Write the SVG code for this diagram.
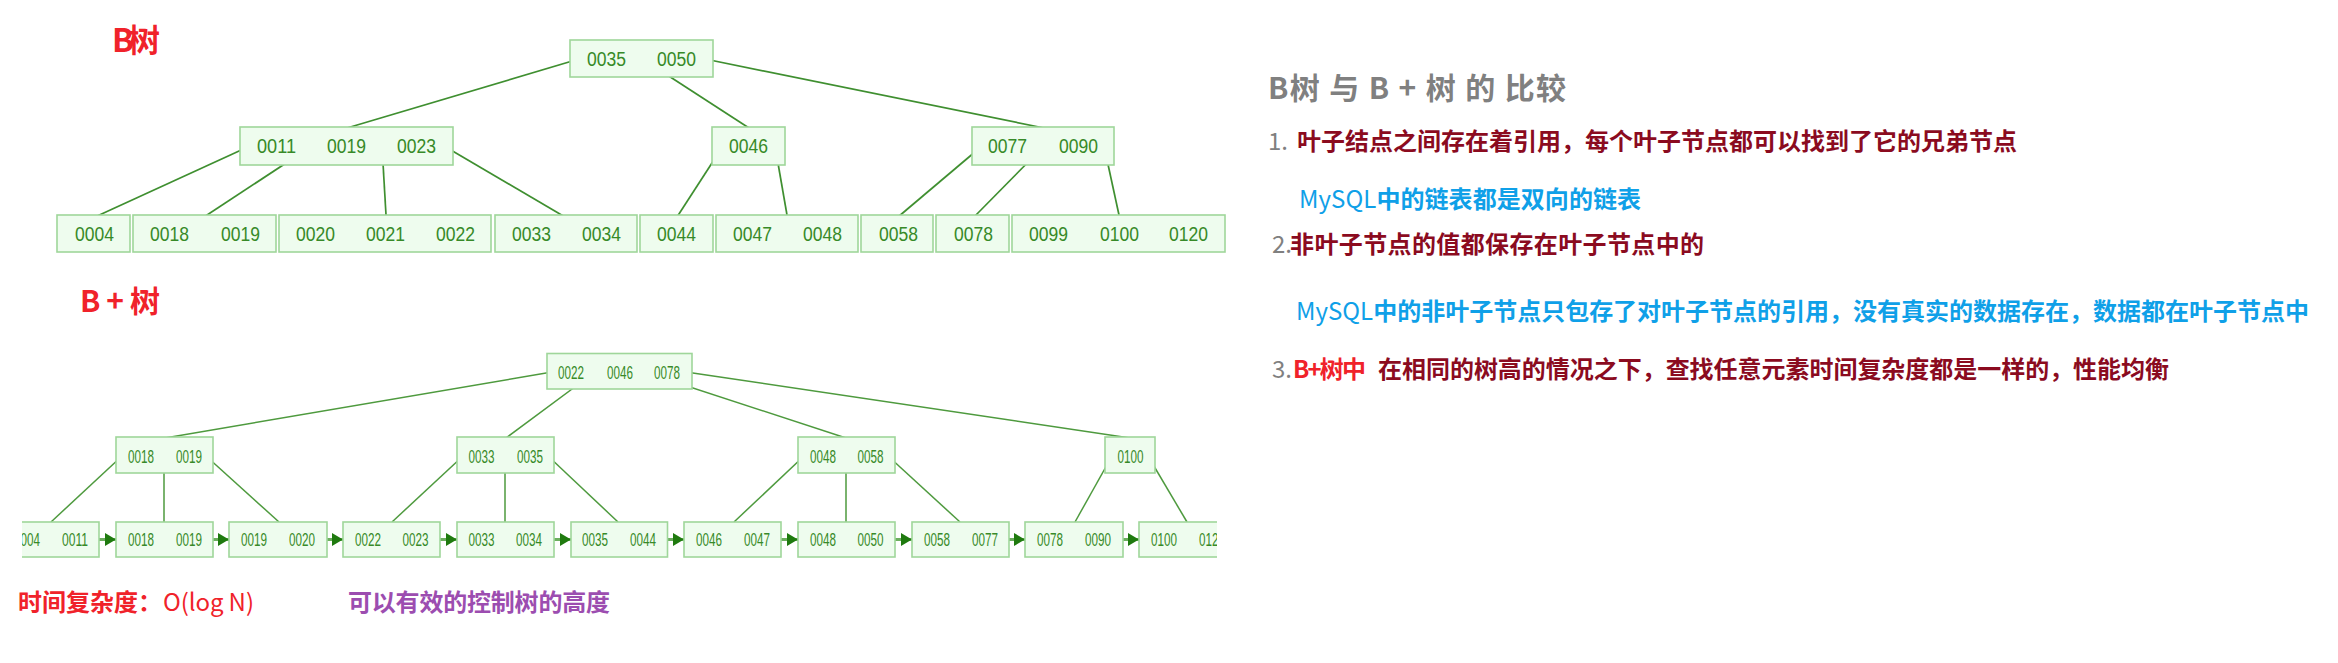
<svg xmlns="http://www.w3.org/2000/svg" width="2338" height="663" viewBox="0 0 2338 663">
<style>
.box{fill:#eefcee;stroke:#9fd69a;stroke-width:1.6}
.k1{font-family:"Liberation Sans",Arial,sans-serif;font-size:20px;fill:#378a28}
.k2{font-family:"Liberation Sans",Arial,sans-serif;font-size:18.5px;fill:#378a28}
.ln{stroke:#3f8f30;stroke-width:1.7;fill:none}
.ln2{stroke:#4e9a3e;stroke-width:1.5;fill:none}
.ar{stroke:#6cae5e;stroke-width:3;fill:none;marker-end:url(#ah)}
.cjk{font-family:"Noto Sans CJK SC","Noto Sans",sans-serif}
.b{font-weight:bold}
.gray{fill:#808080}
.dred{fill:#8b0b1f}
.blue{fill:#0fa0e8}
.red{fill:#f0222a}
.purple{fill:#9c4db0}
</style>
<defs>
<marker id="ah" markerUnits="userSpaceOnUse" markerWidth="12" markerHeight="14" refX="11" refY="6.5" orient="auto">
<path d="M0,0 L11,6.5 L0,13 Z" fill="#1f7a0f"/>
</marker>
<clipPath id="bpclip"><rect x="22" y="340" width="1195" height="230"/></clipPath>
</defs>
<rect width="2338" height="663" fill="#ffffff"/>

<!-- B-tree labels -->
<text class="cjk b red" x="112" y="52" font-size="32" textLength="48" lengthAdjust="spacing">B树</text>

<!-- B-tree connectors -->
<g id="btree-connectors">
<line class="ln" x1="579" y1="59" x2="347" y2="128"/>
<line class="ln" x1="641" y1="58" x2="749" y2="128"/>
<line class="ln" x1="705" y1="59" x2="1044" y2="128"/>
<line class="ln" x1="250" y1="146" x2="95" y2="217"/>
<line class="ln" x1="312" y1="146" x2="204" y2="217"/>
<line class="ln" x1="382" y1="146" x2="386" y2="215"/>
<line class="ln" x1="444" y1="146" x2="565" y2="217"/>
<line class="ln" x1="723" y1="146" x2="677" y2="217"/>
<line class="ln" x1="775" y1="146" x2="787" y2="215"/>
<line class="ln" x1="982" y1="146" x2="898" y2="217"/>
<line class="ln" x1="1044" y1="146" x2="974" y2="217"/>
<line class="ln" x1="1104" y1="146" x2="1119" y2="215"/>
</g>

<!-- B-tree nodes -->
<g id="b-root"><rect class="box" x="570" y="40" width="143" height="37"/>
<text class="k1" x="587" y="66" textLength="39" lengthAdjust="spacingAndGlyphs">0035</text>
<text class="k1" x="657" y="66" textLength="39" lengthAdjust="spacingAndGlyphs">0050</text></g>

<g id="b-n1"><rect class="box" x="240" y="127" width="213" height="38"/>
<text class="k1" x="257" y="153" textLength="39" lengthAdjust="spacingAndGlyphs">0011</text>
<text class="k1" x="327" y="153" textLength="39" lengthAdjust="spacingAndGlyphs">0019</text>
<text class="k1" x="397" y="153" textLength="39" lengthAdjust="spacingAndGlyphs">0023</text></g>
<g id="b-n2"><rect class="box" x="712" y="127" width="73" height="38"/>
<text class="k1" x="729" y="153" textLength="39" lengthAdjust="spacingAndGlyphs">0046</text></g>
<g id="b-n3"><rect class="box" x="972" y="127" width="142" height="38"/>
<text class="k1" x="988" y="153" textLength="39" lengthAdjust="spacingAndGlyphs">0077</text>
<text class="k1" x="1059" y="153" textLength="39" lengthAdjust="spacingAndGlyphs">0090</text></g>

<g id="b-l1"><rect class="box" x="57" y="215" width="73" height="37"/>
<text class="k1" x="75" y="241" textLength="39" lengthAdjust="spacingAndGlyphs">0004</text></g>
<g id="b-l2"><rect class="box" x="133" y="215" width="143" height="37"/>
<text class="k1" x="150" y="241" textLength="39" lengthAdjust="spacingAndGlyphs">0018</text>
<text class="k1" x="221" y="241" textLength="39" lengthAdjust="spacingAndGlyphs">0019</text></g>
<g id="b-l3"><rect class="box" x="279" y="215" width="212" height="37"/>
<text class="k1" x="296" y="241" textLength="39" lengthAdjust="spacingAndGlyphs">0020</text>
<text class="k1" x="366" y="241" textLength="39" lengthAdjust="spacingAndGlyphs">0021</text>
<text class="k1" x="436" y="241" textLength="39" lengthAdjust="spacingAndGlyphs">0022</text></g>
<g id="b-l4"><rect class="box" x="495" y="215" width="142" height="37"/>
<text class="k1" x="512" y="241" textLength="39" lengthAdjust="spacingAndGlyphs">0033</text>
<text class="k1" x="582" y="241" textLength="39" lengthAdjust="spacingAndGlyphs">0034</text></g>
<g id="b-l5"><rect class="box" x="640" y="215" width="73" height="37"/>
<text class="k1" x="657" y="241" textLength="39" lengthAdjust="spacingAndGlyphs">0044</text></g>
<g id="b-l6"><rect class="box" x="716" y="215" width="142" height="37"/>
<text class="k1" x="733" y="241" textLength="39" lengthAdjust="spacingAndGlyphs">0047</text>
<text class="k1" x="803" y="241" textLength="39" lengthAdjust="spacingAndGlyphs">0048</text></g>
<g id="b-l7"><rect class="box" x="861" y="215" width="72" height="37"/>
<text class="k1" x="879" y="241" textLength="39" lengthAdjust="spacingAndGlyphs">0058</text></g>
<g id="b-l8"><rect class="box" x="936" y="215" width="73" height="37"/>
<text class="k1" x="954" y="241" textLength="39" lengthAdjust="spacingAndGlyphs">0078</text></g>
<g id="b-l9"><rect class="box" x="1012" y="215" width="213" height="37"/>
<text class="k1" x="1029" y="241" textLength="39" lengthAdjust="spacingAndGlyphs">0099</text>
<text class="k1" x="1100" y="241" textLength="39" lengthAdjust="spacingAndGlyphs">0100</text>
<text class="k1" x="1169" y="241" textLength="39" lengthAdjust="spacingAndGlyphs">0120</text></g>

<!-- B+ tree label -->
<text class="cjk b red" x="80" y="312" font-size="30" textLength="80" lengthAdjust="spacing">B + 树</text>

<g clip-path="url(#bpclip)">
<!-- B+ tree connectors -->
<g id="bplus-connectors">
<line class="ln2" x1="552" y1="372" x2="165" y2="438"/>
<line class="ln2" x1="595" y1="372" x2="506" y2="438"/>
<line class="ln2" x1="644" y1="372" x2="846" y2="438"/>
<line class="ln2" x1="686" y1="372" x2="1130" y2="438"/>
<line class="ln2" x1="122" y1="456" x2="51" y2="522"/>
<line class="ln2" x1="164" y1="456" x2="164" y2="522"/>
<line class="ln2" x1="206" y1="456" x2="279" y2="522"/>
<line class="ln2" x1="463" y1="456" x2="392" y2="522"/>
<line class="ln2" x1="505" y1="456" x2="505" y2="522"/>
<line class="ln2" x1="548" y1="456" x2="618" y2="522"/>
<line class="ln2" x1="804" y1="456" x2="734" y2="522"/>
<line class="ln2" x1="846" y1="456" x2="846" y2="522"/>
<line class="ln2" x1="888" y1="456" x2="960" y2="522"/>
<line class="ln2" x1="1112" y1="456" x2="1075" y2="522"/>
<line class="ln2" x1="1148" y1="456" x2="1187" y2="522"/>
<line class="ar" x1="93" y1="539.5" x2="116" y2="539.5"/>
<line class="ar" x1="207" y1="539.5" x2="229" y2="539.5"/>
<line class="ar" x1="321" y1="539.5" x2="343" y2="539.5"/>
<line class="ar" x1="434" y1="539.5" x2="457" y2="539.5"/>
<line class="ar" x1="548" y1="539.5" x2="571" y2="539.5"/>
<line class="ar" x1="661" y1="539.5" x2="684" y2="539.5"/>
<line class="ar" x1="775" y1="539.5" x2="798" y2="539.5"/>
<line class="ar" x1="889" y1="539.5" x2="912" y2="539.5"/>
<line class="ar" x1="1003" y1="539.5" x2="1025" y2="539.5"/>
<line class="ar" x1="1117" y1="539.5" x2="1139" y2="539.5"/>
</g>

<!-- B+ tree nodes -->
<g id="bp-root"><rect class="box" x="547" y="353.5" width="145" height="35.5"/>
<text class="k2" x="558" y="378.5" textLength="26" lengthAdjust="spacingAndGlyphs">0022</text>
<text class="k2" x="607" y="378.5" textLength="26" lengthAdjust="spacingAndGlyphs">0046</text>
<text class="k2" x="654" y="378.5" textLength="26" lengthAdjust="spacingAndGlyphs">0078</text></g>

<g id="bp-n1"><rect class="box" x="116" y="437" width="97" height="36"/>
<text class="k2" x="128" y="462.5" textLength="26" lengthAdjust="spacingAndGlyphs">0018</text>
<text class="k2" x="176" y="462.5" textLength="26" lengthAdjust="spacingAndGlyphs">0019</text></g>
<g id="bp-n2"><rect class="box" x="457" y="437" width="97" height="36"/>
<text class="k2" x="468.5" y="462.5" textLength="26" lengthAdjust="spacingAndGlyphs">0033</text>
<text class="k2" x="517" y="462.5" textLength="26" lengthAdjust="spacingAndGlyphs">0035</text></g>
<g id="bp-n3"><rect class="box" x="798" y="437" width="97" height="36"/>
<text class="k2" x="810" y="462.5" textLength="26" lengthAdjust="spacingAndGlyphs">0048</text>
<text class="k2" x="857.5" y="462.5" textLength="26" lengthAdjust="spacingAndGlyphs">0058</text></g>
<g id="bp-n4"><rect class="box" x="1105" y="437" width="50" height="36"/>
<text class="k2" x="1117.5" y="462.5" textLength="26" lengthAdjust="spacingAndGlyphs">0100</text></g>

<g id="bp-l1"><rect class="box" x="2" y="522" width="97" height="35"/>
<text class="k2" x="14" y="545.5" textLength="26" lengthAdjust="spacingAndGlyphs">0004</text>
<text class="k2" x="62" y="545.5" textLength="26" lengthAdjust="spacingAndGlyphs">0011</text></g>
<g id="bp-l2"><rect class="box" x="116" y="522" width="97" height="35"/>
<text class="k2" x="128" y="545.5" textLength="26" lengthAdjust="spacingAndGlyphs">0018</text>
<text class="k2" x="176" y="545.5" textLength="26" lengthAdjust="spacingAndGlyphs">0019</text></g>
<g id="bp-l3"><rect class="box" x="229" y="522" width="98" height="35"/>
<text class="k2" x="241" y="545.5" textLength="26" lengthAdjust="spacingAndGlyphs">0019</text>
<text class="k2" x="289" y="545.5" textLength="26" lengthAdjust="spacingAndGlyphs">0020</text></g>
<g id="bp-l4"><rect class="box" x="343" y="522" width="97" height="35"/>
<text class="k2" x="355" y="545.5" textLength="26" lengthAdjust="spacingAndGlyphs">0022</text>
<text class="k2" x="402.5" y="545.5" textLength="26" lengthAdjust="spacingAndGlyphs">0023</text></g>
<g id="bp-l5"><rect class="box" x="457" y="522" width="97" height="35"/>
<text class="k2" x="468.5" y="545.5" textLength="26" lengthAdjust="spacingAndGlyphs">0033</text>
<text class="k2" x="516" y="545.5" textLength="26" lengthAdjust="spacingAndGlyphs">0034</text></g>
<g id="bp-l6"><rect class="box" x="571" y="522" width="96.5" height="35"/>
<text class="k2" x="582" y="545.5" textLength="26" lengthAdjust="spacingAndGlyphs">0035</text>
<text class="k2" x="630" y="545.5" textLength="26" lengthAdjust="spacingAndGlyphs">0044</text></g>
<g id="bp-l7"><rect class="box" x="684" y="522" width="97" height="35"/>
<text class="k2" x="696" y="545.5" textLength="26" lengthAdjust="spacingAndGlyphs">0046</text>
<text class="k2" x="744" y="545.5" textLength="26" lengthAdjust="spacingAndGlyphs">0047</text></g>
<g id="bp-l8"><rect class="box" x="798" y="522" width="97" height="35"/>
<text class="k2" x="810" y="545.5" textLength="26" lengthAdjust="spacingAndGlyphs">0048</text>
<text class="k2" x="857.5" y="545.5" textLength="26" lengthAdjust="spacingAndGlyphs">0050</text></g>
<g id="bp-l9"><rect class="box" x="912" y="522" width="97" height="35"/>
<text class="k2" x="924" y="545.5" textLength="26" lengthAdjust="spacingAndGlyphs">0058</text>
<text class="k2" x="972" y="545.5" textLength="26" lengthAdjust="spacingAndGlyphs">0077</text></g>
<g id="bp-l10"><rect class="box" x="1025" y="522" width="98" height="35"/>
<text class="k2" x="1037" y="545.5" textLength="26" lengthAdjust="spacingAndGlyphs">0078</text>
<text class="k2" x="1085" y="545.5" textLength="26" lengthAdjust="spacingAndGlyphs">0090</text></g>
<g id="bp-l11"><rect class="box" x="1139" y="522" width="97" height="35"/>
<text class="k2" x="1151" y="545.5" textLength="26" lengthAdjust="spacingAndGlyphs">0100</text>
<text class="k2" x="1199" y="545.5" textLength="26" lengthAdjust="spacingAndGlyphs">0120</text></g>
</g>

<!-- Bottom notes -->
<text class="cjk b red" x="18" y="611" font-size="24" textLength="144" lengthAdjust="spacing">时间复杂度：</text>
<text class="cjk red" x="163" y="611" font-size="24" textLength="91" lengthAdjust="spacing">O(log N)</text>
<text class="cjk b purple" x="348" y="611" font-size="24" textLength="262" lengthAdjust="spacing">可以有效的控制树的高度</text>

<!-- Comparison panel -->
<g id="comparison">
<text class="cjk b gray" x="1268" y="99" font-size="30" textLength="298" lengthAdjust="spacing">B树 与 B + 树 的 比较</text>
<text class="cjk gray" x="1268" y="150" font-size="24">1.</text>
<text class="cjk b dred" x="1297" y="150" font-size="24" textLength="720" lengthAdjust="spacing">叶子结点之间存在着引用，每个叶子节点都可以找到了它的兄弟节点</text>
<text class="cjk blue" x="1299" y="208" font-size="24" textLength="342" lengthAdjust="spacing"><tspan>MySQL</tspan><tspan class="b">中的链表都是双向的链表</tspan></text>
<text class="cjk gray" x="1272" y="253" font-size="24">2.</text>
<text class="cjk b dred" x="1290" y="253" font-size="24" textLength="414" lengthAdjust="spacing">非叶子节点的值都保存在叶子节点中的</text>
<text class="cjk blue" x="1296" y="320" font-size="24" textLength="1013" lengthAdjust="spacing"><tspan>MySQL</tspan><tspan class="b">中的非叶子节点只包存了对叶子节点的引用，没有真实的数据存在，数据都在叶子节点中</tspan></text>
<text class="cjk gray" x="1272" y="378" font-size="24">3.</text>
<text class="cjk b red" x="1293" y="378" font-size="24" textLength="73" lengthAdjust="spacing">B+树中</text>
<text class="cjk b dred" x="1378" y="378" font-size="24" textLength="791" lengthAdjust="spacing">在相同的树高的情况之下，查找任意元素时间复杂度都是一样的，性能均衡</text>
</g>
</svg>
